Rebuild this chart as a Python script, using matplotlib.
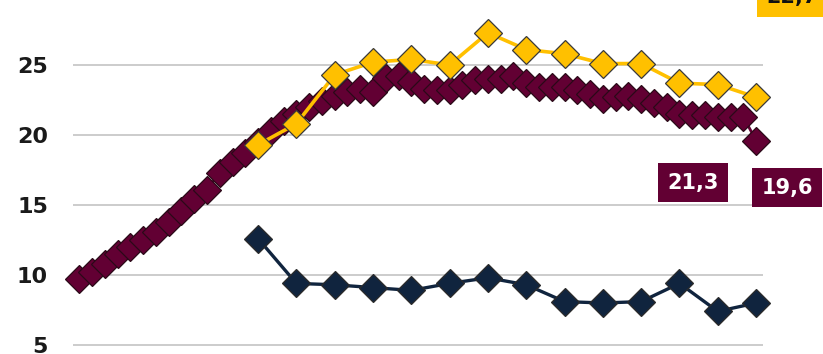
import numpy as np
import matplotlib
matplotlib.use("Agg")
import matplotlib.pyplot as plt

# Annual series (one point per year) and a four-monthly series (three per year)
annual_t = np.arange(14)
gold_values = [19.3, 20.8, 24.3, 25.2, 25.4, 25.0, 27.3, 26.1, 25.8, 25.1,
               25.1, 23.7, 23.6, 22.7]
navy_values = [12.6, 9.4, 9.3, 9.1, 8.9, 9.4, 9.8, 9.3, 8.1, 8.0,
               8.1, 9.4, 7.4, 8.0]

tertial_t = np.arange(-14, 40) / 3
maroon_values = [9.7, 10.2, 10.8, 11.5, 12.0, 12.5, 13.1, 13.8, 14.6, 15.4,
                 16.1, 17.3, 18.1, 18.7, 19.5, 20.3, 21.0, 21.5, 22.0, 22.4,
                 22.8, 23.1, 23.3, 23.1, 24.1, 24.2, 23.8, 23.3, 23.2, 23.2,
                 23.6, 23.9, 24.0, 24.0, 24.2, 23.7, 23.4, 23.4, 23.4, 23.2,
                 22.9, 22.6, 22.7, 22.8, 22.6, 22.3, 22.0, 21.5, 21.4, 21.4,
                 21.3, 21.3, 21.3, 19.6]

y_ticks = [5, 10, 15, 20, 25]

GOLD = "#FFC000"
MAROON = "#620033"
NAVY = "#10243E"
EDGE = "#3a3a3a"

fig = plt.figure(figsize=(8.23, 3.54), dpi=100)
ax = fig.add_axes([73 / 823, 0, 690 / 823, 1])

ax.plot(tertial_t, maroon_values, color=MAROON, lw=2, marker="D", ms=14.3,
        mfc=MAROON, mec="#2a0a18", mew=0.9, clip_on=False, zorder=3)
ax.plot(annual_t, navy_values, color=NAVY, lw=2.4, marker="D", ms=14.3,
        mfc=NAVY, mec="#2b2b2b", mew=0.9, clip_on=False, zorder=3)
ax.plot(annual_t, gold_values, color=GOLD, lw=2.6, marker="D", ms=14.3,
        mfc=GOLD, mec=EDGE, mew=0.9, clip_on=False, zorder=4)

ax.set_xlim(-4.83, 13.18)
ax.set_ylim(4.357, 29.64)
ax.set_yticks(y_ticks)
ax.set_xticks([])
ax.yaxis.grid(True, color="#c8c8c8", lw=1.3)
ax.set_axisbelow(True)
ax.tick_params(axis="y", length=0, pad=18, labelsize=16, labelcolor="#1a1a1a")
for lab in ax.get_yticklabels():
    lab.set_fontweight("bold")
for sp in ax.spines.values():
    sp.set_visible(False)


def value_label(x, y, dx, dy, face, text_color):
    ax.annotate(f"{y:.1f}".replace(".", ","), xy=(x, y), xytext=(dx, dy),
                textcoords="offset pixels", ha="center", va="center",
                fontsize=15, fontweight="bold", color=text_color,
                bbox=dict(boxstyle="square,pad=0.45", fc=face, ec="none"),
                annotation_clip=False, zorder=6)


value_label(tertial_t[-2], maroon_values[-2], -50, -66, MAROON, "white")
value_label(tertial_t[-1], maroon_values[-1], 31, -47, MAROON, "white")
value_label(annual_t[-1], gold_values[-1], 36, 100, GOLD, "#111111")

fig.savefig("out.png", dpi=100)
